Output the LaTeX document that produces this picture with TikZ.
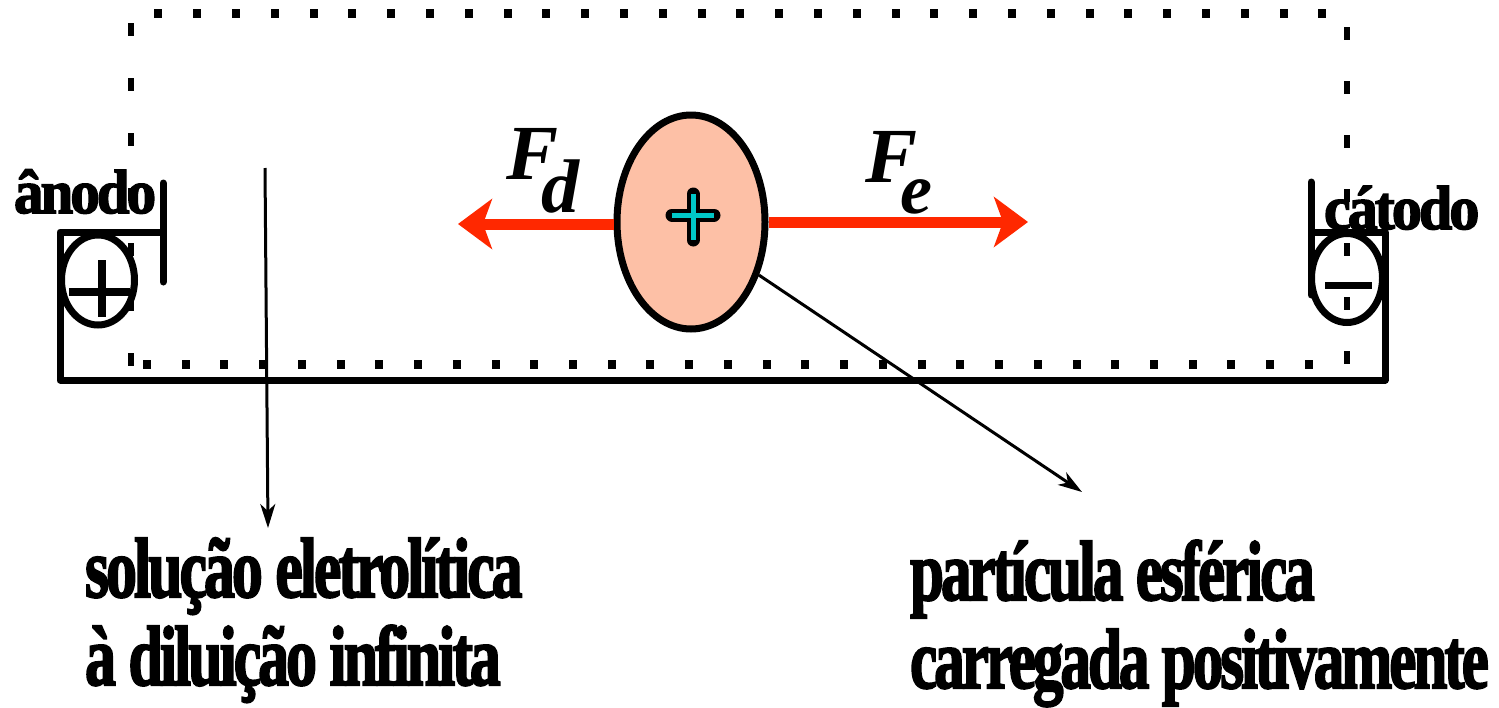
\documentclass[tikz,border=0pt]{standalone}
\usepackage{fontspec}
\setmainfont{Liberation Serif}[BoldFeatures={FakeBold=2.5}]
\usetikzlibrary{arrows.meta,shapes.geometric}
\definecolor{redarrow}{RGB}{255,40,0}
\definecolor{salmon}{RGB}{253,192,166}
\definecolor{cyanplus}{RGB}{0,200,200}
\newcommand{\tightbig}[3]{\fontsize{#1}{#1}\selectfont\addfontfeatures{LetterSpace=-5}\scalebox{#2}[1]{#3}}
\tikzset{
  lbl/.style={inner sep=0pt, outer sep=0pt, anchor=base west, font=\bfseries},
  frame/.style={line width=7pt, line cap=round, line join=round},
  pointer/.style={line width=3pt, -{Stealth[length=24pt, width=15pt, inset=7pt]}},
  force/.style={line width=11pt, redarrow, -{Stealth[length=34pt, width=50pt, inset=9pt]}},
}
\begin{document}
\begin{tikzpicture}[x=1pt, y=-1pt]
\useasboundingbox (0,0) rectangle (1499,707);
% dotted boundary
\foreach \i in {0,...,30} {
  \fill (158.3+38.8*\i-4, 9) rectangle ++(8,9);
  \fill (147+38.73*\i-4, 360) rectangle ++(8,9);
}
\foreach \k in {0,...,6} {
  \fill (127.5, 23+55*\k) rectangle ++(6,13);
  \fill (1344, 27+54*\k) rectangle ++(6,13);
}
% solid container
\draw[frame] (163,183) -- (163,282);
\draw[frame] (163,232) -- (60,232) -- (60,380) -- (1385,380) -- (1385,232) -- (1315,232);
\draw[frame] (1311,182) -- (1311,295);
% electrodes
\node[draw, line width=7pt, ellipse, minimum width=73pt, minimum height=90pt, inner sep=0pt] (anodeC) at (98,280) {};
\draw[line width=8pt] (69,292) -- (130,292) (102,260) -- (102,317);
\node[draw, line width=7pt, ellipse, minimum width=71pt, minimum height=89pt, inner sep=0pt] (cathodeC) at (1347,278) {};
\draw[line width=7pt] (1325,285) -- (1372,285);
% labels
\node[lbl] (anodo) at (14,213) {\tightbig{62pt}{0.95}{ânodo}};
\node[lbl] (catodo) at (1324,229) {\tightbig{62pt}{0.97}{cátodo}};
% particle
\node[draw, line width=7pt, fill=salmon, ellipse, minimum width=148pt, minimum height=214pt, inner sep=0pt] (part) at (691,222) {};
\draw[line width=13pt, line cap=round] (672,215) -- (714,215) (693,194) -- (693,240);
\draw[line width=5pt, cyanplus] (672,215) -- (714,215) (693,194) -- (693,240);
% forces
\coordinate (fdtip) at (458,224);
\coordinate (fetip) at (1028,222);
\draw[force] (part.west |- 0,224) -- (fdtip);
\draw[force] (part.east |- 0,222) -- (fetip);
\node[lbl] (Fd) at (506,179) {\fontsize{78pt}{78pt}\selectfont\itshape\makebox[0pt][l]{F}\hspace{35pt}\raisebox{-33pt}{\fontsize{76pt}{76pt}\selectfont d}};
\node[lbl] (Fe) at (865,182) {\fontsize{78pt}{78pt}\selectfont\itshape\makebox[0pt][l]{F}\hspace{35pt}\raisebox{-31pt}{\fontsize{72pt}{72pt}\selectfont e}};
% pointer labels
\node[lbl] (sol1) at (85,597) {\tightbig{85pt}{0.73}{solução eletrolítica}};
\node[lbl] (sol2) at (85,685) {\tightbig{85pt}{0.73}{à diluição infinita}};
\node[lbl] (par1) at (910,600) {\tightbig{85pt}{0.72}{partícula esférica}};
\node[lbl] (par2) at (910,688) {\tightbig{85pt}{0.72}{carregada positivamente}};
\coordinate (solstart) at (265,168);
\coordinate (solend) at (268,528);
\coordinate (parend) at (1082,492);
\draw[pointer] (solstart) -- (solend);
\draw[pointer] (part.-38) -- (parend);
\end{tikzpicture}
\end{document}
